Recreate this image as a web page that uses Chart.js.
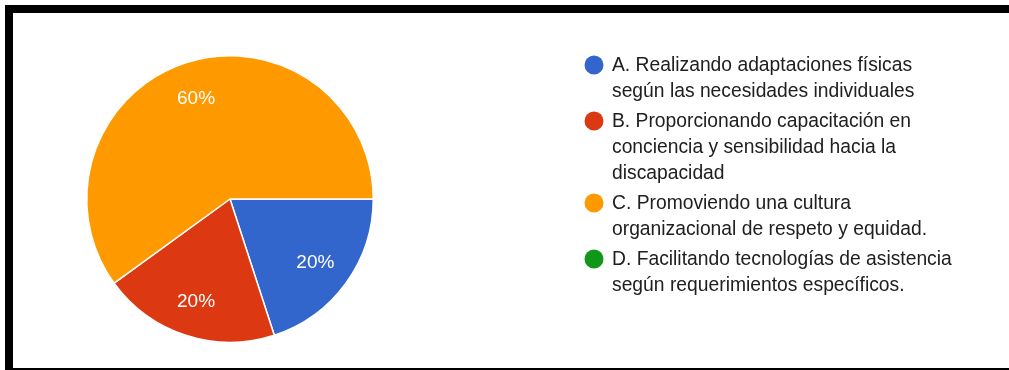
<!DOCTYPE html>
<html>
<head>
<meta charset="utf-8">
<script src="https://cdn.jsdelivr.net/npm/chart.js@4/dist/chart.umd.min.js"></script>
<style>
  html, body { margin: 0; padding: 0; background: #ffffff; }
  body { width: 1009px; height: 370px; position: relative; overflow: hidden; }
  #frame {
    position: absolute; left: 5px; top: 5px;
    width: 1020px; height: 355px;
    border-left: 8px solid #000; border-top: 8px solid #000;
    border-bottom: 2px solid #000; border-right: 8px solid #000;
  }
  #wrap { position: absolute; left: 0; top: 0; width: 1009px; height: 370px; }
</style>
</head>
<body>
<div id="frame"></div>
<div id="wrap"><canvas id="chart" width="1009" height="370"></canvas></div>
<script>
// Answer options (each entry is the wrapped lines of one legend label)
const categories = [
  ['A. Realizando adaptaciones físicas', 'según las necesidades individuales'],
  ['B. Proporcionando capacitación en', 'conciencia y sensibilidad hacia la', 'discapacidad'],
  ['C. Promoviendo una cultura', 'organizacional de respeto y equidad.'],
  ['D. Facilitando tecnologías de asistencia', 'según requerimientos específicos.']
];
// Share of responses per option, in percent
const percentages = [20, 20, 60, 0];
const sliceColors = ['#3366cc', '#dc3912', '#ff9900', '#109618'];

const FONT = "'Liberation Sans', Arial, sans-serif";

// Percentage labels placed inside each slice
const sliceLabels = {
  id: 'sliceLabels',
  afterDatasetsDraw(chart) {
    const ctx = chart.ctx;
    const meta = chart.getDatasetMeta(0);
    const values = chart.data.datasets[0].data;
    const total = values.reduce((a, b) => a + b, 0);
    ctx.save();
    ctx.font = '19px ' + FONT;
    ctx.fillStyle = '#ffffff';
    ctx.textAlign = 'center';
    ctx.textBaseline = 'middle';
    meta.data.forEach((arc, i) => {
      if (!values[i]) return;
      const p = arc.getProps(['x', 'y', 'startAngle', 'endAngle', 'outerRadius'], true);
      const mid = (p.startAngle + p.endAngle) / 2;
      const r = p.outerRadius * 0.745;
      const pct = Math.round(values[i] / total * 100) + '%';
      ctx.fillText(pct, p.x + Math.cos(mid) * r - 1, p.y + Math.sin(mid) * r + 1);
    });
    ctx.restore();
  }
};

// Legend with round markers and wrapped labels, to the right of the pie
const sideLegend = {
  id: 'sideLegend',
  afterDraw(chart) {
    const ctx = chart.ctx;
    const colors = chart.data.datasets[0].backgroundColor;
    const left = 612, markerX = 594, markerR = 9.5;
    const lineH = 26, itemGap = 4;
    let y = 65;
    ctx.save();
    ctx.font = '19.3px ' + FONT;
    ctx.textBaseline = 'middle';
    ctx.textAlign = 'left';
    chart.data.labels.forEach((lines, i) => {
      ctx.fillStyle = colors[i];
      ctx.beginPath();
      ctx.arc(markerX, y, markerR, 0, Math.PI * 2);
      ctx.fill();
      ctx.fillStyle = '#202020';
      lines.forEach((line, k) => ctx.fillText(line, left, y + k * lineH + 1));
      y += lines.length * lineH + itemGap;
    });
    ctx.restore();
  }
};

new Chart(document.getElementById('chart'), {
  type: 'pie',
  data: {
    labels: categories,
    datasets: [{
      data: percentages,
      backgroundColor: sliceColors,
      borderColor: '#ffffff',
      borderWidth: 1.5
    }]
  },
  options: {
    responsive: false,
    animation: false,
    rotation: 90,
    layout: { padding: { left: 86, right: 635, top: 55, bottom: 27 } },
    plugins: {
      legend: { display: false },
      tooltip: { enabled: false }
    }
  },
  plugins: [sliceLabels, sideLegend]
});
</script>
</body>
</html>
